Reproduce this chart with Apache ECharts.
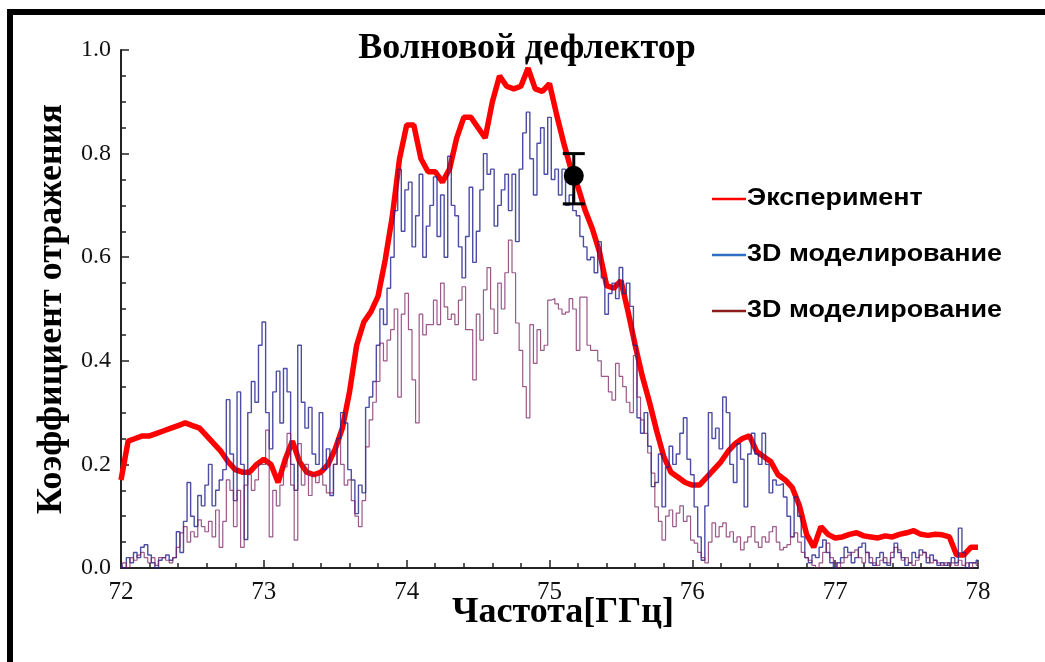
<!DOCTYPE html>
<html>
<head>
<meta charset="utf-8">
<script src="https://cdn.jsdelivr.net/npm/echarts@6/dist/echarts.min.js"></script>
<style>html,body{margin:0;padding:0;background:#fff;}#c{width:1045px;height:662px;}</style>
</head>
<body>
<div id="c"></div>
<script>
// ---- data ----
const titleText = 'Волновой дефлектор';
const xName = 'Частота[ГГц]';
const yName = 'Коэффициент отражения';
const legendNames = ['Эксперимент', '3D моделирование', '3D моделирование'];

// Experiment (red), frequency grid 72.00 .. 78.00 step 0.05
const expStart = 72.0, expStep = 0.05;
const expValues = [
 0.17,0.245,0.25,0.255,0.255,0.26,0.265,0.27,0.275,0.28,
 0.275,0.27,0.255,0.24,0.225,0.205,0.19,0.185,0.185,0.2,
 0.21,0.2,0.165,0.21,0.245,0.205,0.185,0.18,0.185,0.2,
 0.23,0.27,0.34,0.43,0.475,0.495,0.525,0.595,0.68,0.79,
 0.855,0.855,0.79,0.765,0.765,0.745,0.77,0.83,0.87,0.87,
 0.85,0.83,0.9,0.95,0.93,0.925,0.93,0.965,0.925,0.92,
 0.935,0.875,0.82,0.77,0.735,0.69,0.655,0.61,0.545,0.54,
 0.555,0.495,0.43,0.37,0.32,0.265,0.215,0.185,0.175,0.165,
 0.16,0.16,0.175,0.19,0.205,0.225,0.24,0.25,0.255,0.225,
 0.215,0.205,0.18,0.17,0.155,0.12,0.065,0.04,0.08,0.065,
 0.058,0.06,0.065,0.068,0.062,0.06,0.058,0.062,0.06,0.065,
 0.068,0.072,0.065,0.063,0.065,0.064,0.06,0.025,0.025,0.04,
 0.04
];

// Simulations, frequency grid 72.000 .. 78.000 step 0.025
const simStart = 72.0, simStep = 0.025;
const sim1Values = [
 0.01,0.0,0.02,0.01,0.03,0.02,0.04,0.045,0.025,0.01,
 0.0,0.015,0.02,0.025,0.015,0.02,0.07,0.03,0.09,0.165,
 0.1,0.08,0.14,0.12,0.16,0.2,0.12,0.15,0.17,0.19,
 0.325,0.22,0.13,0.34,0.2,0.055,0.3,0.36,0.32,0.43,
 0.475,0.3,0.23,0.34,0.38,0.28,0.385,0.34,0.2,0.15,
 0.43,0.32,0.27,0.31,0.22,0.2,0.3,0.19,0.23,0.14,
 0.2,0.25,0.3,0.28,0.19,0.17,0.105,0.16,0.145,0.31,
 0.33,0.36,0.43,0.5,0.47,0.54,0.6,0.69,0.77,0.65,
 0.73,0.745,0.62,0.68,0.76,0.6,0.66,0.7,0.755,0.64,
 0.72,0.6,0.795,0.7,0.68,0.62,0.56,0.64,0.735,0.59,
 0.65,0.73,0.8,0.76,0.77,0.66,0.7,0.73,0.76,0.69,
 0.76,0.63,0.77,0.84,0.88,0.79,0.72,0.82,0.85,0.76,
 0.87,0.75,0.77,0.72,0.77,0.7,0.72,0.69,0.68,0.64,
 0.62,0.595,0.6,0.57,0.63,0.56,0.49,0.53,0.55,0.52,
 0.58,0.53,0.55,0.505,0.43,0.29,0.26,0.3,0.235,0.157,
 0.165,0.22,0.118,0.195,0.235,0.2,0.22,0.26,0.29,0.21,
 0.18,0.118,0.06,0.015,0.12,0.3,0.25,0.27,0.23,0.33,
 0.3,0.2,0.165,0.24,0.21,0.118,0.22,0.26,0.22,0.2,
 0.26,0.2,0.145,0.17,0.16,0.163,0.137,0.1,0.06,0.137,
 0.1,0.06,0.02,0.01,0.025,0.02,0.04,0.054,0.03,0.01,
 0.0,0.01,0.02,0.04,0.03,0.01,0.02,0.04,0.048,0.03,
 0.01,0.005,0.02,0.03,0.01,0.005,0.02,0.048,0.03,0.02,
 0.005,0.01,0.03,0.02,0.035,0.03,0.01,0.025,0.015,0.005,
 0.01,0.005,0.01,0.02,0.01,0.077,0.03,0.0,0.01,0.01,
 0.015
];
const sim2Values = [
 0.0,0.01,0.0,0.02,0.015,0.025,0.03,0.02,0.01,0.02,
 0.005,0.02,0.02,0.015,0.01,0.02,0.04,0.068,0.08,0.05,
 0.07,0.06,0.093,0.08,0.07,0.09,0.06,0.112,0.04,0.09,
 0.17,0.15,0.08,0.15,0.04,0.16,0.18,0.15,0.17,0.2,
 0.2,0.266,0.06,0.15,0.12,0.16,0.195,0.26,0.16,0.054,
 0.24,0.16,0.2,0.14,0.18,0.165,0.18,0.16,0.145,0.145,
 0.2,0.247,0.2,0.16,0.17,0.13,0.1,0.08,0.13,0.234,
 0.286,0.32,0.36,0.434,0.4,0.44,0.46,0.5,0.33,0.49,
 0.53,0.46,0.363,0.28,0.49,0.45,0.47,0.47,0.517,0.47,
 0.55,0.504,0.48,0.49,0.47,0.517,0.543,0.46,0.46,0.363,
 0.49,0.44,0.537,0.58,0.5,0.453,0.55,0.5,0.57,0.633,
 0.57,0.473,0.42,0.35,0.29,0.47,0.395,0.46,0.42,0.43,
 0.517,0.52,0.51,0.5,0.49,0.494,0.52,0.5,0.42,0.523,
 0.523,0.43,0.42,0.42,0.4,0.37,0.37,0.34,0.324,0.395,
 0.37,0.35,0.32,0.3,0.41,0.33,0.286,0.26,0.222,0.183,
 0.118,0.09,0.054,0.1,0.112,0.08,0.106,0.12,0.09,0.1,
 0.054,0.048,0.03,0.02,0.01,0.05,0.087,0.06,0.08,0.087,
 0.06,0.07,0.05,0.06,0.035,0.05,0.06,0.08,0.05,0.04,
 0.06,0.05,0.07,0.08,0.05,0.035,0.04,0.045,0.06,0.068,
 0.05,0.03,0.02,0.015,0.005,0.0,0.01,0.03,0.048,0.02,
 0.01,0.0,0.01,0.02,0.025,0.03,0.035,0.02,0.01,0.03,
 0.02,0.01,0.005,0.015,0.02,0.01,0.03,0.04,0.035,0.015,
 0.02,0.01,0.005,0.015,0.025,0.03,0.02,0.01,0.015,0.01,
 0.005,0.01,0.005,0.01,0.005,0.015,0.005,0.01,0.0,0.01,
 0.005
];

// Measured point with error bar
const errFreq = [75.17];
const errVal = [0.757];
const errLow = [0.703];
const errHigh = [0.80];

const xTicks = [72, 73, 74, 75, 76, 77, 78];
const yTicks = [0.0, 0.2, 0.4, 0.6, 0.8, 1.0];

// ---- build ----
function toPairs(start, step, vals) {
  return vals.map((v, i) => [+(start + i * step).toFixed(3), v]);
}
const expData = toPairs(expStart, expStep, expValues);
const sim1Data = toPairs(simStart, simStep, sim1Values);
const sim2Data = toPairs(simStart, simStep, sim2Values);
const errData = errFreq.map((f, i) => [f, errVal[i], errLow[i], errHigh[i]]);

const chart = echarts.init(document.getElementById('c'), null, {renderer: 'canvas'});
const serif = '"Liberation Serif", "DejaVu Serif", serif';
const sans = '"Liberation Sans", Arial, sans-serif';

const legendColors = ['#ff0000', '#2f6fc4', '#8a1c1c'];
const legendGraphics = [];
legendNames.forEach((n, i) => {
  const y = 199 + i * 56;
  legendGraphics.push({
    type: 'line', shape: {x1: 712, y1: y, x2: 746, y2: y},
    style: {stroke: legendColors[i], lineWidth: 2.5}, z: 100
  });
  legendGraphics.push({
    type: 'text', x: 747, y: y, scaleX: 1.17, originX: 0, originY: 0,
    style: {text: n, font: 'bold 23px ' + sans, fill: '#000', textVerticalAlign: 'middle', textAlign: 'left'}, z: 100
  });
});

const option = {
  backgroundColor: '#fff',
  animation: false,
  title: {
    text: titleText, left: 522, top: 26, textAlign: 'center',
    textStyle: {fontFamily: serif, fontWeight: 'bold', fontSize: 36, color: '#000'}
  },
  grid: {left: 121, right: 67, top: 50, bottom: 94, containLabel: false},
  xAxis: {
    type: 'value', min: 72, max: 78, interval: 1,
    axisLine: {show: true, onZero: false, lineStyle: {color: '#222', width: 2}},
    axisTick: {show: true, inside: true, length: 8, lineStyle: {color: '#222', width: 1.5}},
    minorTick: {show: true, splitNumber: 5, length: 5, lineStyle: {color: '#222', width: 1.5}},
    axisLabel: {fontFamily: serif, fontSize: 25, color: '#111', margin: 12,
      formatter: v => xTicks.includes(v) ? String(v) : ''},
    splitLine: {show: false}
  },
  yAxis: {
    type: 'value', min: 0, max: 1, interval: 0.2,
    name: yName, nameLocation: 'middle', nameGap: 42, nameRotate: 90,
    nameTextStyle: {fontFamily: serif, fontWeight: 'bold', fontSize: 36, color: '#000'},
    axisLine: {show: true, lineStyle: {color: '#222', width: 2}},
    axisTick: {show: true, inside: true, length: 8, lineStyle: {color: '#222', width: 1.5}},
    minorTick: {show: true, splitNumber: 4, length: 5, lineStyle: {color: '#222', width: 1.5}},
    axisLabel: {fontFamily: serif, fontSize: 24, color: '#111', margin: 10,
      formatter: v => yTicks.some(t => Math.abs(t - v) < 1e-9) ? v.toFixed(1) : ''},
    splitLine: {show: false}
  },
  series: [
    {
      name: legendNames[0], type: 'line', data: expData, showSymbol: false, symbol: 'none',
      lineStyle: {color: '#ff0000', width: 5.5}, z: 2
    },
    {
      name: legendNames[1], type: 'line', data: sim1Data, showSymbol: false, symbol: 'none', step: 'middle',
      lineStyle: {color: '#20208f', width: 1.4, opacity: 0.8}, z: 3
    },
    {
      name: legendNames[2], type: 'line', data: sim2Data, showSymbol: false, symbol: 'none', step: 'middle',
      lineStyle: {color: '#7a2060', width: 1.2, opacity: 0.75}, z: 4
    },
    {
      type: 'custom', data: errData, z: 10,
      renderItem: function (params, api) {
        const c = api.coord([api.value(0), api.value(1)]);
        const lo = api.coord([api.value(0), api.value(2)]);
        const hi = api.coord([api.value(0), api.value(3)]);
        const hw = 11;
        return {
          type: 'group', children: [
            {type: 'line', shape: {x1: c[0], y1: lo[1], x2: c[0], y2: hi[1]}, style: {stroke: '#000', lineWidth: 3}},
            {type: 'line', shape: {x1: c[0] - hw, y1: lo[1], x2: c[0] + hw, y2: lo[1]}, style: {stroke: '#000', lineWidth: 3}},
            {type: 'line', shape: {x1: c[0] - hw, y1: hi[1], x2: c[0] + hw, y2: hi[1]}, style: {stroke: '#000', lineWidth: 3}},
            {type: 'circle', shape: {cx: c[0], cy: c[1], r: 10}, style: {fill: '#000'}}
          ]
        };
      }
    }
  ],
  graphic: [
    {type: 'rect', shape: {x: 7, y: 9, width: 6, height: 660}, style: {fill: '#000'}, z: 100},
    {type: 'rect', shape: {x: 7, y: 9, width: 1045, height: 6}, style: {fill: '#000'}, z: 100},
    {type: 'text', x: 563, y: 613, z: 100,
     style: {text: xName, font: 'bold 36px ' + serif, fill: '#000', textAlign: 'center', textVerticalAlign: 'middle'}}
  ].concat(legendGraphics)
};
chart.setOption(option);
</script>
</body>
</html>
